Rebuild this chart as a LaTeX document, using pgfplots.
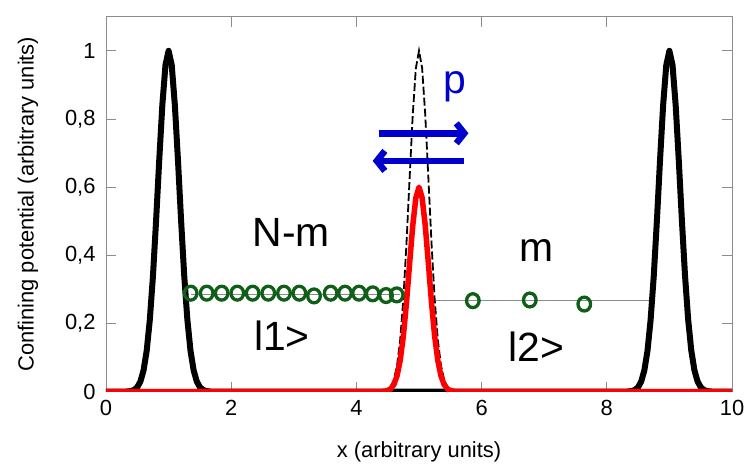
\documentclass[border=0pt]{standalone}
\usepackage{pgfplots}
\pgfplotsset{compat=1.18}
\usepackage{fontspec}
\setmainfont{Liberation Sans}
\usetikzlibrary{arrows.meta}
\definecolor{cgreen}{RGB}{15,95,25}
\definecolor{cblue}{RGB}{0,0,205}
\definecolor{caxis}{RGB}{140,140,140}
\begin{document}
\begin{tikzpicture}
\begin{axis}[
  scale only axis, width=626bp, height=375bp,
  xmin=0, xmax=10, ymin=0, ymax=1.1,
  xtick={0,2,4,6,8,10}, ytick={0,0.2,0.4,0.6,0.8,1},
  yticklabels={0,{0,2},{0,4},{0,6},{0,8},1},
  tick align=inside, major tick length=10bp,
  axis line style={caxis, line width=0.8bp},
  every tick/.style={caxis, line width=0.8bp},
  /pgf/number format/assume math mode=true,
  tick label style={font=\fontsize{22}{26}\selectfont},
  xticklabel style={yshift=-5bp},
  yticklabel style={xshift=-7bp},
  label style={font=\fontsize{22}{26}\selectfont},
  xlabel={x (arbitrary units)},
  ylabel={Confining potential (arbitrary units)},
  x label style={at={(axis description cs:0.5,-0.16)}, anchor=center},
  y label style={at={(axis description cs:-0.1246,0.5)}, anchor=center},
  clip=true,
]
% grey guide lines
\addplot[caxis, line width=0.8bp] coordinates {(1.35,0.286) (4.7,0.286)};
\addplot[caxis, line width=0.8bp] coordinates {(5.27,0.269) (8.72,0.269)};
% black potential with peaks at 1 and 9
\addplot[black, line width=6bp, line join=round] coordinates {
(0,0) (0.3,0) (0.4,0.0020) (0.45,0.0053) (0.5,0.0132) (0.55,0.0301) (0.6,0.0628) (0.65,0.120) (0.7,0.211) (0.75,0.339) (0.8,0.501) (0.85,0.678) (0.9,0.841) (0.95,0.958) (1,1)
(1.05,0.958) (1.1,0.841) (1.15,0.678) (1.2,0.501) (1.25,0.339) (1.3,0.211) (1.35,0.120) (1.4,0.0628) (1.45,0.0301) (1.5,0.0132) (1.55,0.0053) (1.6,0.0020) (1.7,0)
(8.3,0) (8.4,0.0020) (8.45,0.0053) (8.5,0.0132) (8.55,0.0301) (8.6,0.0628) (8.65,0.120) (8.7,0.211) (8.75,0.339) (8.8,0.501) (8.85,0.678) (8.9,0.841) (8.95,0.958) (9,1)
(9.05,0.958) (9.1,0.841) (9.15,0.678) (9.2,0.501) (9.25,0.339) (9.3,0.211) (9.35,0.120) (9.4,0.0628) (9.45,0.0301) (9.5,0.0132) (9.55,0.0053) (9.6,0.0020) (9.7,0) (10,0)};
% dashed barrier
\addplot[black, line width=1.8bp, dash pattern=on 8bp off 3bp] coordinates {
(4.4,0.0006) (4.5,0.0055) (4.55,0.0147) (4.6,0.0357) (4.65,0.078) (4.7,0.153) (4.75,0.272) (4.8,0.435) (4.85,0.626) (4.9,0.812) (4.95,0.949) (5,1)
(5.05,0.949) (5.1,0.812) (5.15,0.626) (5.2,0.435) (5.25,0.272) (5.3,0.153) (5.35,0.078) (5.4,0.0357) (5.45,0.0147) (5.5,0.0055) (5.6,0.0006)};
% red barrier
\addplot[red, line width=5.5bp, line join=round] coordinates {
(0,0) (4.4,0) (4.5,0.0033) (4.55,0.0088) (4.6,0.0214) (4.65,0.047) (4.7,0.092) (4.75,0.163) (4.8,0.261) (4.85,0.376) (4.9,0.487) (4.95,0.569) (5,0.6)
(5.05,0.569) (5.1,0.487) (5.15,0.376) (5.2,0.261) (5.25,0.163) (5.3,0.092) (5.35,0.047) (5.4,0.0214) (5.45,0.0088) (5.5,0.0033) (5.6,0) (10,0)};
% green circles
\addplot[only marks, mark=o, mark size=6.3bp, cgreen, mark options={line width=3.3bp, yscale=1.1}] coordinates {
(1.353,0.289) (1.609,0.289) (1.848,0.289) (2.097,0.289) (2.343,0.289) (2.592,0.289) (2.843,0.289) (3.088,0.289) (3.323,0.281) (3.589,0.289) (3.818,0.289) (4.042,0.289) (4.260,0.287) (4.473,0.282) (4.644,0.284)
(5.86,0.267) (6.77,0.269) (7.64,0.257)};
% arrows and texts
\draw[cblue, line width=6.5bp, -{Straight Barb[length=8bp,width=20bp]}] (axis cs:4.36,0.758) -- (axis cs:5.79,0.758);
\draw[cblue, line width=6.5bp, -{Straight Barb[length=8bp,width=20bp]}] (axis cs:5.72,0.677) -- (axis cs:4.26,0.677);
\node[anchor=base, text=cblue, font=\fontsize{41}{45}\selectfont] at (axis cs:5.57,0.874) {p};
\node[anchor=base, font=\fontsize{41}{45}\selectfont] at (axis cs:2.96,0.427) {N-m};
\node[anchor=base, font=\fontsize{41}{45}\selectfont] at (axis cs:6.87,0.382) {m};
\node[anchor=base, font=\fontsize{41}{45}\selectfont] at (axis cs:2.81,0.12) {l1>};
\node[anchor=base, font=\fontsize{41}{45}\selectfont] at (axis cs:6.88,0.089) {l2>};
\end{axis}
\pgfresetboundingbox
\path (-106bp,-76.3bp) rectangle (642bp,391.7bp);
\end{tikzpicture}
\end{document}
